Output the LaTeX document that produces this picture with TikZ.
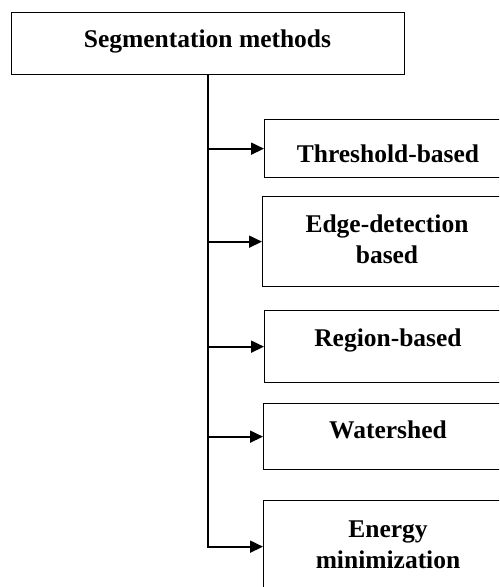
\documentclass[tikz,border=0pt]{standalone}
\usepackage{fontspec}
\setmainfont{Liberation Serif}
\usetikzlibrary{arrows.meta}
\tikzset{
  rootbox/.style={draw, line width=1.3pt, inner sep=0pt, anchor=north west},
  methodbox/.style={rootbox, minimum width=248pt},
  lbl/.style={font=\bfseries\fontsize{25.5}{31}\selectfont, align=center, anchor=base, inner sep=0pt},
  branch/.style={line width=1.8pt, -{Triangle[length=13pt,width=12pt]}},
}
\begin{document}
\begin{tikzpicture}[x=1pt,y=-1pt]
        \useasboundingbox (0,0) rectangle (499,587);
        \clip (0,0) rectangle (499,587);

        % Root box
        \node[rootbox, minimum width=393pt, minimum height=62pt] (root) at (11,12) {};
        \node[lbl] (rootlbl) at (207.5,47) {Segmentation methods};

        % Method boxes (running off the right edge)
        \node[methodbox, minimum height=58pt] (thr) at (264,119) {};
        \node[methodbox, minimum height=90pt] (edge) at (262,196) {};
        \node[methodbox, minimum height=72pt] (reg) at (264,310) {};
        \node[methodbox, minimum height=66pt] (wat) at (263,403) {};
        \node[methodbox, minimum height=92pt] (ene) at (263,500) {};

        % Method labels (base = last line)
        \node[lbl] (thrlbl) at (388,162) {Threshold-based};
        \node[lbl] (edgelbl) at (387,263) {Edge-detection\\based};
        \node[lbl] (reglbl) at (388,346) {Region-based};
        \node[lbl] (watlbl) at (388,438) {Watershed};
        \node[lbl] (enelbl) at (388,568) {Energy\\minimization};

        % Trunk and branches
        \draw[line width=1.8pt, line cap=rect] (root.south) -- (ene.west -| root.south);
        \foreach \m in {thr,edge,reg,wat,ene}
          \draw[branch] (\m.west -| root.south) -- (\m.west);
\end{tikzpicture}
\end{document}
